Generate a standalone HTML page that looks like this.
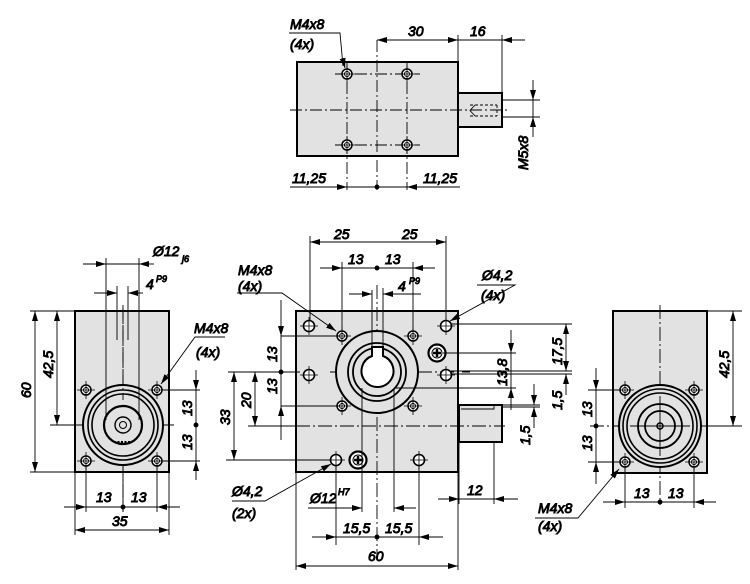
<!DOCTYPE html>
<html><head><meta charset="utf-8"><style>
html,body{margin:0;padding:0;background:#fff}
svg{display:block}
text{font-family:"Liberation Sans",sans-serif;font-style:italic;font-size:14px;fill:#000}
.s{font-size:9px}
</style></head><body>
<svg width="750" height="584" viewBox="0 0 750 584" xmlns="http://www.w3.org/2000/svg">
<defs>
<marker id="a" viewBox="0 0 10 6" refX="10" refY="3" markerWidth="10" markerHeight="6" markerUnits="userSpaceOnUse" orient="auto"><path d="M0,0L10,3L0,6z" fill="#000"/></marker>
<marker id="b" viewBox="0 0 10 6" refX="0" refY="3" markerWidth="10" markerHeight="6" markerUnits="userSpaceOnUse" orient="auto"><path d="M10,0L0,3L10,6z" fill="#000"/></marker>
<g id="h4"><circle r="5" fill="#fff" stroke="#000" stroke-width="1.5"/><circle r="2.5" fill="none" stroke="#000" stroke-width="1"/><path d="M-9,0H9M0,-9V9" stroke="#000" stroke-width="0.8"/></g>
<g id="h42"><circle r="5.5" fill="#fff" stroke="#000" stroke-width="1.6"/><path d="M-9,0H9M0,-9V9" stroke="#000" stroke-width="0.8"/></g>
<g id="scr"><circle r="8.5" fill="#fff" stroke="#000" stroke-width="2.2"/><circle r="5" fill="none" stroke="#000" stroke-width="1"/><path d="M-4,0H4M0,-4V4" stroke="#000" stroke-width="2.5"/></g>
</defs>
<g stroke="#000" fill="none" stroke-width="0.9">

<!-- ===== TOP VIEW ===== -->
<rect x="297" y="62" width="161" height="94" fill="#e2e2e2" stroke-width="2"/>
<rect x="458" y="93" width="44" height="34" fill="#e2e2e2" stroke-width="2"/>
<path d="M470,105H497M470,116H497M497,105V116" stroke-dasharray="3,2"/>
<path d="M475,105L470,110.5L475,116" />
<path d="M290,110H510" stroke-dasharray="12,3,2,3"/>
<path d="M377,40V190" stroke-dasharray="12,3,2,3"/>
<path d="M347,62V190M407,62V190M335,74H420M335,145H420" stroke-dasharray="12,3,2,3"/>
<use href="#h4" x="347" y="74"/><use href="#h4" x="407" y="74"/><use href="#h4" x="347" y="145"/><use href="#h4" x="407" y="145"/>
<path d="M458,62V35M502,93V35"/>
<path d="M377,40H458" marker-start="url(#b)" marker-end="url(#a)"/>
<path d="M458,40H525"/><path d="M525,40H502" marker-end="url(#a)"/>
<text x="408" y="36">30</text><text x="470" y="36">16</text>
<path d="M502,100H540M502,117H540"/>
<path d="M533,80V100" marker-end="url(#a)"/><path d="M533,137V117" marker-end="url(#a)"/><path d="M533,100V117"/>
<text transform="translate(528,170) rotate(-90)">M5x8</text>
<path d="M290,187H347" marker-end="url(#a)"/><path d="M347,187H407"/><path d="M460,187H407" marker-end="url(#a)"/>
<circle cx="377" cy="187" r="2" fill="#000"/>
<text x="292" y="183">11,25</text><text x="423" y="183">11,25</text>
<path d="M289,33H340L343,66" /><path d="M343,60L345,68" marker-end="url(#a)"/>
<text x="290" y="29">M4x8</text><text x="290" y="49">(4x)</text>

<!-- ===== FRONT VIEW ===== -->
<rect x="296" y="311" width="162" height="161" fill="#e2e2e2" stroke-width="2"/>
<rect x="459" y="405" width="43" height="37" fill="#e2e2e2" stroke-width="2"/>
<path d="M461,409H494V405"/>
<path d="M377,285V560" stroke-dasharray="14,3,2,3"/>
<path d="M252,426H505" stroke-dasharray="14,3,2,3"/>
<path d="M330,372H470" stroke-dasharray="14,3,2,3"/>
<circle cx="377" cy="372" r="41" fill="#e2e2e2" stroke-width="2"/>
<circle cx="377" cy="372" r="29" stroke-width="1.8"/>
<circle cx="377" cy="372" r="24" stroke-width="1.8"/>
<path d="M372,356A16,16 0 1 0 383,356V347H372Z" fill="#fff" stroke-width="2"/>
<use href="#h42" x="309" y="326"/><use href="#h42" x="446" y="326"/>
<use href="#h42" x="309" y="375"/><use href="#h42" x="446" y="375"/>
<use href="#h42" x="336" y="460"/><use href="#h42" x="419" y="460"/>
<use href="#h4" x="342" y="336"/><use href="#h4" x="413" y="336"/><use href="#h4" x="342" y="406"/><use href="#h4" x="413" y="406"/>
<use href="#scr" x="437" y="353"/><use href="#scr" x="358" y="460"/>
<!-- top dims -->
<path d="M310,320V236M446,320V236M342,330V262M413,330V262M372,356V290M383,356V288"/>
<path d="M377,242H310" marker-end="url(#a)"/><path d="M377,242H446" marker-end="url(#a)"/>
<text x="334" y="239">25</text><text x="402" y="239">25</text>
<path d="M320,268H342" marker-end="url(#a)"/><path d="M342,268H413"/><path d="M435,268H413" marker-end="url(#a)"/>
<circle cx="377" cy="268" r="2" fill="#000"/>
<text x="348" y="264">13</text><text x="385" y="264">13</text>
<path d="M349,294H372" marker-end="url(#a)"/><path d="M421,294H383" marker-end="url(#a)"/>
<text x="398" y="291">4</text><text class="s" x="409" y="284">P9</text>
<!-- left dims -->
<path d="M281,336H340M281,406H340M228,372H300M226,460H330M248,426H296"/>
<path d="M281,300V336" marker-end="url(#a)"/><path d="M281,336V406"/><path d="M281,440V406" marker-end="url(#a)"/>
<circle cx="281" cy="372" r="2" fill="#000"/>
<text transform="translate(277,362) rotate(-90)">13</text><text transform="translate(277,394) rotate(-90)">13</text>
<path d="M255,399V372" marker-end="url(#a)"/><path d="M255,399V426" marker-end="url(#a)"/>
<text transform="translate(251,408) rotate(-90)">20</text>
<path d="M234,416V372" marker-end="url(#a)"/><path d="M234,416V460" marker-end="url(#a)"/>
<text transform="translate(230,425) rotate(-90)">33</text>
<!-- right dims -->
<path d="M452,324H572M443,353H516M451,371H572M451,374H572M394,388H516M503,405H540M503,407H540"/>
<path d="M566,348V324" marker-end="url(#a)"/><path d="M566,348V371" marker-end="url(#a)"/>
<text transform="translate(562,365) rotate(-90)">17,5</text>
<path d="M566,395V374" marker-end="url(#a)"/>
<text transform="translate(562,410) rotate(-90)">1,5</text>
<path d="M511,330V353" marker-end="url(#a)"/><path d="M511,353V388"/><path d="M511,410V388" marker-end="url(#a)"/>
<text transform="translate(507,386) rotate(-90)">13,8</text>
<path d="M534,384V405" marker-end="url(#a)"/><path d="M534,428V407" marker-end="url(#a)"/>
<text transform="translate(530,445) rotate(-90)">1,5</text>
<!-- bottom dims -->
<path d="M362,388V512M394,388V512M336,466V545M419,466V545M296,472V570M458,472V570M459,442V504M494,442V504"/>
<path d="M308,508H362" marker-end="url(#a)"/><path d="M416,508H394" marker-end="url(#a)"/>
<text x="310" y="503">Ø12</text><text class="s" x="338" y="495">H7</text>
<path d="M312,537H336" marker-end="url(#a)"/><path d="M336,537H419"/><path d="M443,537H419" marker-end="url(#a)"/>
<circle cx="377" cy="537" r="2" fill="#000"/>
<text x="343" y="533">15,5</text><text x="385" y="533">15,5</text>
<path d="M377,566H296" marker-end="url(#a)"/><path d="M377,566H458" marker-end="url(#a)"/>
<text x="368" y="561">60</text>
<path d="M438,499H459" marker-end="url(#a)"/><path d="M459,499H494"/><path d="M518,499H494" marker-end="url(#a)"/>
<text x="467" y="495">12</text>
<!-- leaders -->
<path d="M237,293H282L336,331" marker-end="url(#a)"/>
<text x="238" y="275">M4x8</text><text x="238" y="291">(4x)</text>
<path d="M477,285H515L450,321" marker-end="url(#a)"/>
<text x="482" y="280">Ø4,2</text><text x="481" y="300">(4x)</text>
<path d="M232,501H265L331,464" marker-end="url(#a)"/>
<text x="232" y="496">Ø4,2</text><text x="232" y="518">(2x)</text>

<!-- ===== LEFT VIEW ===== -->
<rect x="75" y="311" width="94" height="161" fill="#e2e2e2" stroke-width="2"/>
<path d="M123,308V512" stroke-dasharray="14,3,2,3"/>
<path d="M50,425H175" stroke-dasharray="14,3,2,3"/>
<circle cx="123" cy="425" r="40" fill="#e2e2e2" stroke-width="2"/>
<circle cx="123" cy="425" r="35" stroke-width="1.6"/>
<circle cx="123" cy="425" r="31" stroke-width="1.6"/>
<circle cx="123" cy="425" r="19" stroke-width="2.2"/>
<circle cx="123" cy="425" r="8" stroke-width="1.4"/>
<circle cx="123" cy="425" r="3.5" stroke-width="1"/>
<path d="M114,442H132" stroke-width="2" stroke-dasharray="2,1.5"/>
<path d="M106,258V420M139,258V420M117,286V340M128,286V340"/>
<path d="M123,305V400" stroke-dasharray="14,3,2,3"/>
<use href="#h4" x="86" y="390"/><use href="#h4" x="157" y="390"/><use href="#h4" x="86" y="461"/><use href="#h4" x="157" y="461"/>
<path d="M83,264H106" marker-end="url(#a)"/><path d="M106,264H139"/><path d="M154,264H139" marker-end="url(#a)"/>
<text x="153" y="256">Ø12</text><text class="s" x="182" y="262">j6</text>
<path d="M94,293H117" marker-end="url(#a)"/><path d="M143,293H128" marker-end="url(#a)"/>
<text x="146" y="289">4</text><text class="s" x="156" y="282">P9</text>
<path d="M30,311H75M52,425H75M30,472H75"/>
<path d="M35,392V311" marker-end="url(#a)"/><path d="M35,392V472" marker-end="url(#a)"/>
<text transform="translate(31,398) rotate(-90)">60</text>
<path d="M57,368V311" marker-end="url(#a)"/><path d="M57,368V425" marker-end="url(#a)"/>
<text transform="translate(53,378) rotate(-90)">42,5</text>
<path d="M163,390H200M163,461H200"/>
<path d="M196,370V390" marker-end="url(#a)"/><path d="M196,390V461"/><path d="M196,480V461" marker-end="url(#a)"/>
<circle cx="196" cy="425" r="2" fill="#000"/>
<text transform="translate(192,416) rotate(-90)">13</text><text transform="translate(192,450) rotate(-90)">13</text>
<path d="M75,472V535M169,472V535M86,466V512M157,466V512M123,466V512"/>
<path d="M64,507H86" marker-end="url(#a)"/><path d="M86,507H157"/><path d="M180,507H157" marker-end="url(#a)"/>
<circle cx="123" cy="507" r="2" fill="#000"/>
<text x="96" y="502">13</text><text x="131" y="502">13</text>
<path d="M122,530H75" marker-end="url(#a)"/><path d="M122,530H169" marker-end="url(#a)"/>
<text x="112" y="526">35</text>
<path d="M225,337H195L161,384" marker-end="url(#a)"/>
<text x="194" y="333">M4x8</text><text x="196" y="357">(4x)</text>

<!-- ===== RIGHT VIEW ===== -->
<rect x="613" y="311" width="94" height="162" fill="#e2e2e2" stroke-width="2"/>
<path d="M660,305V505" stroke-dasharray="14,3,2,3"/>
<path d="M590,426H715" stroke-dasharray="14,3,2,3"/>
<circle cx="660" cy="426" r="41" fill="#e2e2e2" stroke-width="2"/>
<circle cx="660" cy="426" r="37" stroke-width="1.6"/>
<circle cx="660" cy="426" r="33" stroke-width="1.6"/>
<circle cx="660" cy="426" r="22" stroke-width="1.8"/>
<circle cx="660" cy="426" r="15" stroke-width="1.8"/>
<circle cx="660" cy="426" r="3" stroke-width="1.5"/>
<path d="M630,426H690M660,396V456"/>
<use href="#h4" x="625" y="390"/><use href="#h4" x="694" y="390"/><use href="#h4" x="625" y="462"/><use href="#h4" x="694" y="462"/>
<path d="M707,311H742M707,426H742"/>
<path d="M733,368V311" marker-end="url(#a)"/><path d="M733,368V426" marker-end="url(#a)"/>
<text transform="translate(729,378) rotate(-90)">42,5</text>
<path d="M588,390H620M588,462H620"/>
<path d="M596,368V390" marker-end="url(#a)"/><path d="M596,390V462"/><path d="M596,484V462" marker-end="url(#a)"/>
<circle cx="596" cy="426" r="2" fill="#000"/>
<text transform="translate(592,417) rotate(-90)">13</text><text transform="translate(592,451) rotate(-90)">13</text>
<path d="M625,468V508M694,468V508"/>
<path d="M603,502H625" marker-end="url(#a)"/><path d="M625,502H694"/><path d="M716,502H694" marker-end="url(#a)"/>
<circle cx="660" cy="502" r="2" fill="#000"/>
<text x="634" y="498">13</text><text x="668" y="498">13</text>
<path d="M535,518H578L619,469" marker-end="url(#a)"/>
<text x="538" y="513">M4x8</text><text x="538" y="531">(4x)</text>
</g>
</svg>
</body></html>
